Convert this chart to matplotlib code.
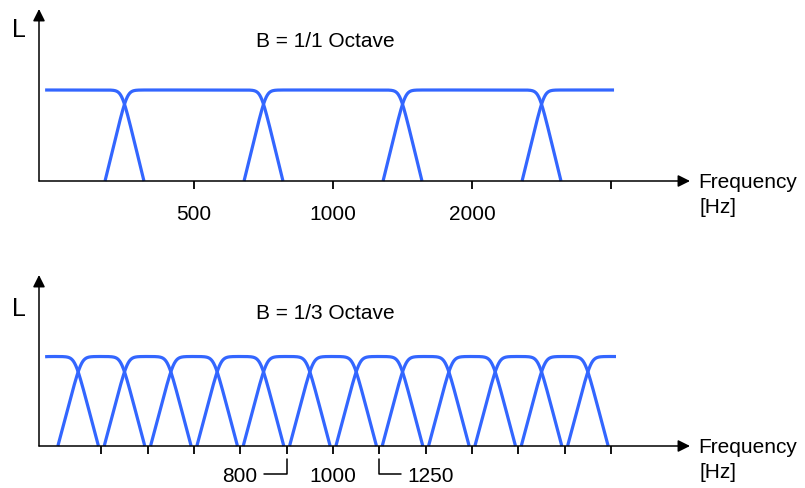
import numpy as np
import matplotlib
matplotlib.use("Agg")
import matplotlib.pyplot as plt
from matplotlib.ticker import NullLocator, FixedLocator, FixedFormatter

plt.rcParams['font.family'] = ['Liberation Sans', 'DejaVu Sans']

# ---------------- data ----------------
REF_HZ = 1000.0
octave_centers = [250, 500, 1000, 2000, 4000]
octave_ticks = [500, 1000, 2000, 4000]
octave_tick_labels = ['500', '1000', '2000', '']

third_centers = [250, 315, 400, 500, 630, 800, 1000, 1250, 1600, 2000, 2500, 3150, 4000]
third_ticks = [315, 400, 500, 630, 800, 1000, 1250, 1600, 2000, 2500, 3150, 4000]
third_labelled = [800, 1000, 1250]
third_label_text = ['800', '1000', '1250']

# drawn frequency span of the filter bank (Hz)
octave_span = (238, 4060)
third_span = (238, 4100)

BLUE = '#3366ff'
W, H = 805, 488

fig = plt.figure(figsize=(W / 100, H / 100), dpi=100)


def add_axes(left, right, bottom, top):
    return fig.add_axes([left / W, 1 - bottom / H, (right - left) / W, (bottom - top) / H])


def exact_centre(f, frac):
    """Exact base-2 band centre (octaves re 1 kHz) for nominal frequency."""
    return np.round(np.log2(np.asarray(f, float) / REF_HZ) * frac) / frac


def filter_curve(c, bw, q, run, k, lo, hi, n=800):
    s = q / run
    e = bw / 2 + run
    x = np.linspace(max(c - e, lo), min(c + e, hi), n)
    lin = s * (e - np.abs(x - c))
    lvl = -np.log(np.exp(-k * 1.0) + np.exp(-k * lin)) / k
    return x, np.clip(lvl, 0, None)


def setup(ax, ytop):
    ax.set_xscale('log', base=2)
    ax.set_xlim(REF_HZ * 2 ** (-2.115), REF_HZ * 2 ** 2.568)
    ax.set_ylim(0, ytop)
    for sp in ax.spines.values():
        sp.set_visible(False)
    ax.set_yticks([])
    ax.xaxis.set_minor_locator(NullLocator())
    ax.patch.set_alpha(0)
    ap = dict(arrowstyle='-|>,head_length=0.72,head_width=0.36', color='black',
              lw=1.1, shrinkA=0, shrinkB=0, mutation_scale=10)
    ax.annotate('', xy=(1, 0), xytext=(0, 0), xycoords='axes fraction', arrowprops=ap,
                annotation_clip=False)
    ax.annotate('', xy=(0, 1), xytext=(0, 0), xycoords='axes fraction', arrowprops=ap,
                annotation_clip=False)
    ax.tick_params(axis='x', which='major', direction='out', length=6, width=1.3,
                   color='black', pad=11.5, labelsize=15)


def draw_bank(ax, centres, frac, span, q, run, k):
    cs = exact_centre(centres, frac)
    lo, hi = np.log2(np.array(span, float) / REF_HZ)
    for c in cs:
        x, y = filter_curve(c, 1.0 / frac, q, run, k, lo, hi)
        ax.plot(REF_HZ * 2 ** x, y, color=BLUE, lw=2.3, solid_capstyle='butt',
                solid_joinstyle='round', clip_on=False)


# ---------------- top panel : 1/1 octave ----------------
ax1 = add_axes(39, 690, 181, 9)
setup(ax1, (181 - 9) / 91)
draw_bank(ax1, octave_centers, 1, octave_span, q=0.875, run=0.14, k=9)
t1 = REF_HZ * 2 ** exact_centre(octave_ticks, 1)
ax1.xaxis.set_major_locator(FixedLocator(t1))
ax1.xaxis.set_major_formatter(FixedFormatter(octave_tick_labels))

# ---------------- bottom panel : 1/3 octave ----------------
ax2 = add_axes(39, 690, 446, 275)
setup(ax2, (446 - 275) / 89.5)
draw_bank(ax2, third_centers, 3, third_span, q=0.855, run=0.146, k=9)
t2 = REF_HZ * 2 ** exact_centre(third_ticks, 3)
ax2.xaxis.set_major_locator(FixedLocator(t2))
ax2.xaxis.set_major_formatter(FixedFormatter([''] * len(t2)))

lab_pos = REF_HZ * 2 ** exact_centre(third_labelled, 3)
for f, s in zip(lab_pos, third_label_text):
    if s == '1000':
        ax2.annotate(s, xy=(f, 0), xycoords=('data', 'axes fraction'), xytext=(0, -36),
                     textcoords='offset pixels', ha='center', va='baseline', fontsize=15,
                     annotation_clip=False)
    else:
        left = s == '800'
        ax2.annotate(s, xy=(f, 0), xycoords=('data', 'axes fraction'),
                     xytext=(-29 if left else 28, -36), textcoords='offset pixels',
                     ha='right' if left else 'left', va='baseline', fontsize=15,
                     annotation_clip=False,
                     arrowprops=dict(arrowstyle='-', color='black', lw=1.1,
                                     connectionstyle='angle,angleA=0,angleB=90,rad=0',
                                     relpos=(1 if left else 0, 0.63), patchA=None,
                                     shrinkA=4.3, shrinkB=9.4))


# ---------------- texts ----------------
def ptext(x, y, s, size=15):
    fig.text(x / W, 1 - y / H, s, fontsize=size, ha='left', va='baseline')


ptext(12, 37, 'L', 18)
ptext(12, 316, 'L', 18)
ptext(255.5, 47, 'B = 1/1 Octave')
ptext(255.5, 319, 'B = 1/3 Octave')
ptext(698.5, 188, 'Frequency')
ptext(699, 213, '[Hz]')
ptext(698.5, 453, 'Frequency')
ptext(699, 478, '[Hz]')

fig.savefig('out.png', dpi=100)
